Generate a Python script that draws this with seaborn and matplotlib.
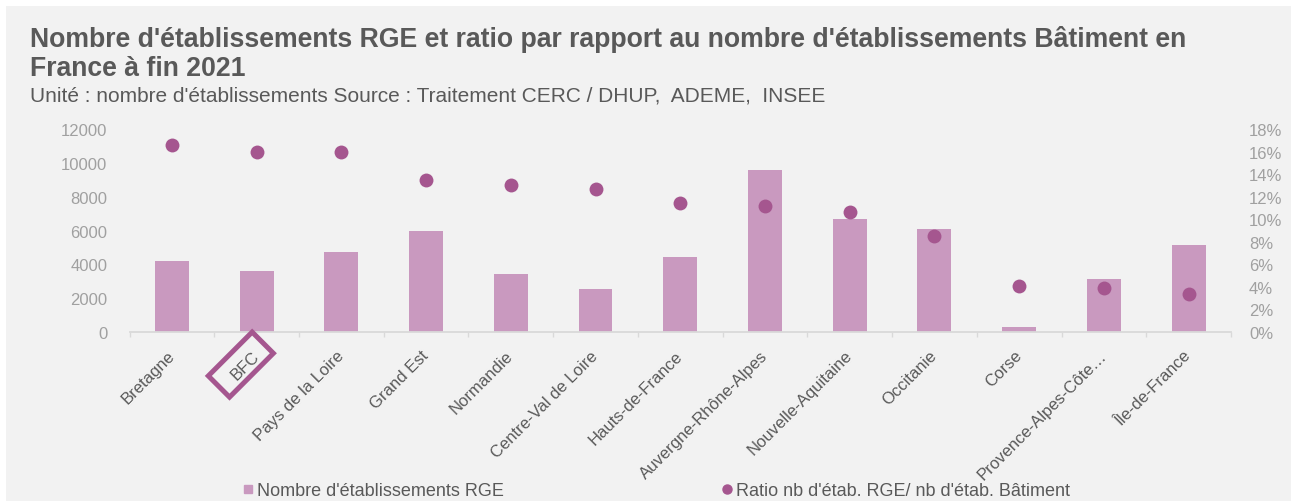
import numpy as np
import pandas as pd
import matplotlib
matplotlib.use("Agg")
import matplotlib.pyplot as plt
import seaborn as sns
from matplotlib import transforms
from matplotlib.lines import Line2D
from matplotlib.patches import Rectangle

# ---- data ----
regions = ["Bretagne", "BFC", "Pays de la Loire", "Grand Est", "Normandie",
           "Centre-Val de Loire", "Hauts-de-France", "Auvergne-Rhône-Alpes",
           "Nouvelle-Aquitaine", "Occitanie", "Corse", "Provence-Alpes-Côte…",
           "Île-de-France"]
nb_rge = [4200, 3600, 4700, 6000, 3400, 2550, 4450, 9550, 6700, 6100, 300, 3150, 5150]
ratio = [0.166, 0.160, 0.160, 0.135, 0.130, 0.1265, 0.114, 0.112, 0.1065, 0.085,
         0.041, 0.039, 0.034]
left_ticks = [0, 2000, 4000, 6000, 8000, 10000, 12000]
right_ticks = [0, 0.02, 0.04, 0.06, 0.08, 0.10, 0.12, 0.14, 0.16, 0.18]
title_lines = ["Nombre d'établissements RGE et ratio par rapport au nombre d'établissements Bâtiment en",
               "France à fin 2021"]
subtitle = "Unité : nombre d'établissements Source : Traitement CERC / DHUP,  ADEME,  INSEE"
legend_labels = ["Nombre d'établissements RGE", "Ratio nb d'étab. RGE/ nb d'étab. Bâtiment"]
highlight = "BFC"

BAR = "#c999bf"
DOT = "#a5568f"
TXT = "#595959"
TICK = "#a0a0a0"
BG = "#f2f2f2"

df = pd.DataFrame({"region": regions, "nb": nb_rge, "ratio": ratio})

sns.set_theme(style="white")
plt.rcParams["font.family"] = ["Liberation Sans", "DejaVu Sans"]

W, H = 1291, 502
fig = plt.figure(figsize=(W / 100, H / 100), dpi=100)
fig.patch.set_facecolor("white")
fig.add_artist(Rectangle((6 / W, 0), 1, (H - 7) / H, transform=fig.transFigure,
                         facecolor=BG, edgecolor="none", zorder=-10))

ax = fig.add_axes([129.5 / W, (H - 333) / H, (1231 - 129.5) / W, (333 - 130) / H])
ax.set_facecolor("none")
ax2 = ax.twinx()
ax2.patch.set_visible(False)

sns.barplot(data=df, x="region", y="nb", order=regions, color=BAR, saturation=1,
            width=0.4, edgecolor="none", ax=ax)
sns.stripplot(data=df, x="region", y="ratio", order=regions, jitter=False,
              color=DOT, size=10, linewidth=0, ax=ax2)

ax.set_xlim(-0.5, len(regions) - 0.5)
ax.set_ylim(0, 12000)
ax2.set_ylim(0, 0.18)

for a in (ax, ax2):
    for s in a.spines.values():
        s.set_visible(False)
    a.set_xlabel("")
    a.set_ylabel("")
    a.grid(False)
ax.spines["bottom"].set_visible(True)
ax.spines["bottom"].set_color("#d9d9d9")
ax.spines["bottom"].set_linewidth(1.3)

ax.set_yticks(left_ticks)
ax.set_yticklabels([str(v) for v in left_ticks])
ax.tick_params(axis="y", length=0, pad=16, labelsize=12, labelcolor=TICK)
ax2.set_yticks(right_ticks)
ax2.set_yticklabels([f"{int(round(v * 100))}%" for v in right_ticks])
ax2.tick_params(axis="y", length=0, pad=13, labelsize=12, labelcolor=TICK)

ax.set_xticks(np.arange(len(regions)))
ax.set_xticks(np.arange(-0.5, len(regions), 1), minor=True)
ax.tick_params(axis="x", which="major", length=0, pad=15, labelsize=12, labelcolor=TXT)
ax.tick_params(axis="x", which="minor", length=3.5, width=1, color="#d9d9d9",
               direction="out", bottom=True)
ax.set_xticklabels(regions, rotation=45, ha="right", va="center", rotation_mode="anchor")

# title & subtitle
fig.text(30 / W, (H - 47) / H, title_lines[0], fontsize=19.2, fontweight="bold",
         color=TXT, va="baseline", ha="left")
fig.text(30 / W, (H - 76) / H, title_lines[1], fontsize=19.2, fontweight="bold",
         color=TXT, va="baseline", ha="left")
fig.text(30 / W, (H - 101) / H, subtitle, fontsize=15, color=TXT,
         va="baseline", ha="left")

# legend
handles = [Line2D([], [], marker="s", ls="none", color=BAR, markersize=5.5),
           Line2D([], [], marker="o", ls="none", color=DOT, markersize=6.5)]
fig.legend(handles=handles, labels=legend_labels, loc="center",
           bbox_to_anchor=(656 / W, (H - 492) / H), ncol=2, frameon=False,
           fontsize=13, labelcolor=TXT, handlelength=0.7, handletextpad=0.15,
           columnspacing=12)

# highlight box around BFC label
fig.canvas.draw()
renderer = fig.canvas.get_renderer()
lab = ax.get_xticklabels()[regions.index(highlight)]
bb = lab.get_window_extent(renderer)
cx, cy = (bb.x0 + bb.x1) / 2, (bb.y0 + bb.y1) / 2
bw, bh = 62, 30
rect = Rectangle((cx - 4 - bw / 2, cy - bh / 2), bw, bh, angle=45, rotation_point="center",
                 transform=transforms.IdentityTransform(), facecolor="none",
                 edgecolor=DOT, linewidth=3.6, zorder=5)
fig.add_artist(rect)

fig.savefig("out.png", dpi=100, facecolor=fig.get_facecolor())
